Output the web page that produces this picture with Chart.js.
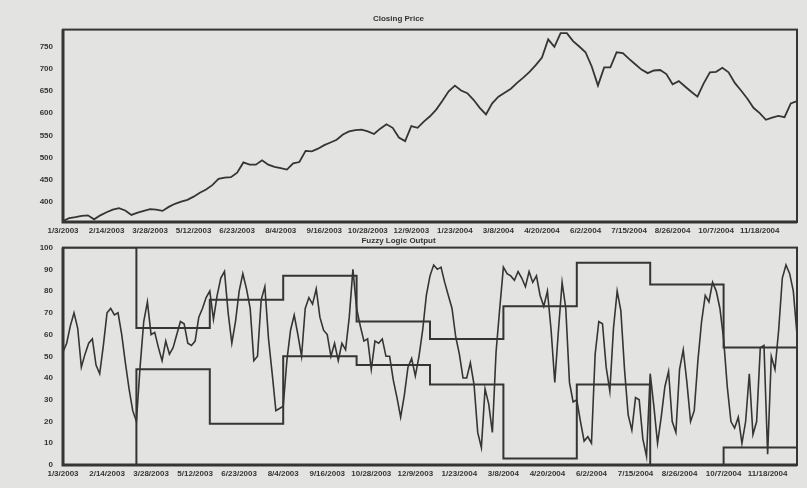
<!DOCTYPE html>
<html>
<head>
<meta charset="utf-8">
<script src="https://cdn.jsdelivr.net/npm/chart.js@4.4.1/dist/chart.umd.min.js"></script>
<style>
  html, body { margin: 0; padding: 0; background: #e3e3e1; }
  #wrap { position: relative; width: 807px; height: 488px; overflow: hidden; }
  canvas { position: absolute; left: 0; }
  #priceChart { top: 0; }
  #fuzzyChart { top: 228px; }
</style>
</head>
<body>
<div id="wrap">
  <canvas id="priceChart" width="807" height="240"></canvas>
  <canvas id="fuzzyChart" width="807" height="260"></canvas>
</div>
<script>
// Daily closing price, sampled evenly across the period
const closingPrice = [
  357, 364, 366, 369, 370, 361, 370, 377, 383, 386,
  381, 371, 376, 380, 384, 383, 380, 389, 396, 401,
  405, 412, 421, 428, 438, 452, 455, 456, 466, 489,
  484, 484, 494, 484, 479, 476, 473, 487, 490, 515,
  514, 520, 528, 534, 540, 552, 559, 562, 563, 559,
  553, 565, 575, 567, 545, 537, 571, 567, 581, 593,
  608, 628, 649, 662, 651, 645, 630, 612, 597, 622,
  637, 646, 655, 668, 680, 693, 708, 725, 766, 749,
  780, 780, 762, 750, 737, 705, 662, 703, 703, 737,
  735, 722, 710, 698, 690, 696, 697, 688, 665, 672,
  660, 648, 637, 667, 692, 693, 702, 692, 668, 651,
  633, 612, 600, 585, 590, 594, 591, 622, 627
];

// Fuzzy logic output (0-100), same period, finer sampling
const fuzzyOutput = [
  52, 56, 64, 70, 63, 45, 51, 56, 58, 46, 42, 55, 70, 72, 69, 70, 60, 47, 35, 25,
  20, 45, 66, 75, 60, 61, 54, 48, 57, 51, 54, 60, 66, 65, 56, 55, 57, 68, 72, 77,
  80, 67, 78, 86, 89, 70, 56, 66, 80, 88, 81, 72, 48, 50, 76, 82, 58, 42, 25, 26,
  27, 48, 62, 69, 60, 50, 72, 77, 74, 81, 68, 62, 60, 50, 56, 48, 56, 53, 68, 90,
  72, 64, 57, 58, 44, 57, 56, 58, 50, 50, 39, 31, 22, 32, 45, 49, 41, 50, 62, 78,
  87, 92, 90, 91, 84, 78, 72, 59, 51, 40, 40, 47, 37, 15, 8, 35, 28, 15, 52, 72,
  91, 88, 87, 85, 89, 86, 82, 89, 84, 87, 78, 73, 80, 62, 38, 62, 84, 72, 38, 29,
  30, 20, 11, 13, 10, 51, 66, 65, 45, 34, 63, 80, 71, 44, 23, 16, 31, 30, 12, 4,
  42, 27, 10, 22, 36, 43, 20, 15, 44, 53, 38, 20, 25, 48, 66, 78, 75, 84, 80, 72,
  58, 36, 20, 17, 22, 10, 20, 42, 14, 20, 54, 55, 5, 50, 44, 62, 86, 92, 88, 80,
  60
];

// Band limits held for each of the ten evaluation windows
const upperBand = [100, 63, 76, 87, 66, 58, 73, 93, 83, 54];
const lowerBand = [0, 44, 19, 50, 46, 37, 3, 37, 0, 8];

// Date tick labels along both time axes
const dateLabels = [
  '1/3/2003', '2/14/2003', '3/28/2003', '5/12/2003', '6/23/2003', '8/4/2003',
  '9/16/2003', '10/28/2003', '12/9/2003', '1/23/2004', '3/8/2004', '4/20/2004',
  '6/2/2004', '7/15/2004', '8/26/2004', '10/7/2004', '11/18/2004'
];

const priceTicks = [400, 450, 500, 550, 600, 650, 700, 750];
const fuzzyTicks = [0, 10, 20, 30, 40, 50, 60, 70, 80, 90, 100];

const INK = '#353535';
const FONT = "'Liberation Sans', Arial, sans-serif";

// Spread the date labels evenly over a series' points
function axisLabels(count) {
  const step = Math.floor((count - 1) / (dateLabels.length - 1));
  return Array.from({ length: count }, (_, i) =>
    (i % step === 0 && i / step < dateLabels.length) ? dateLabels[i / step] : '');
}

// Expand per-window band values to one value per point
function expandBand(band, count) {
  const per = Math.floor((count - 1) / band.length);
  return Array.from({ length: count }, (_, i) => band[Math.min(band.length - 1, Math.floor(i / per))]);
}

// Frame around the plotting area
const frame = {
  id: 'frame',
  afterDatasetsDraw(chart) {
    const a = chart.chartArea, ctx = chart.ctx;
    ctx.save();
    ctx.strokeStyle = INK;
    ctx.lineWidth = 2;
    ctx.strokeRect(a.left, a.top, a.right - a.left, a.bottom - a.top);
    ctx.lineWidth = 3;
    ctx.beginPath();
    ctx.moveTo(a.left, a.top);
    ctx.lineTo(a.left, a.bottom);
    ctx.lineTo(a.right, a.bottom);
    ctx.stroke();
    ctx.restore();
  }
};

function baseOptions(title, yMin, yMax, yTicks, padTop, titleGap, padBottom) {
  return {
    responsive: false,
    animation: false,
    events: [],
    layout: { padding: { left: 0, right: 10, top: 0, bottom: padBottom } },
    plugins: {
      legend: { display: false },
      tooltip: { enabled: false },
      title: {
        display: true,
        text: title,
        color: INK,
        font: { family: FONT, size: 8, weight: 'bold' },
        padding: { top: padTop, bottom: titleGap }
      }
    },
    elements: { point: { radius: 0 }, line: { tension: 0, borderWidth: 1.8, borderColor: INK } },
    scales: {
      x: {
        type: 'category',
        offset: false,
        grid: { display: false, drawTicks: false },
        border: { display: false },
        ticks: {
          autoSkip: false, maxRotation: 0, minRotation: 0, padding: 4,
          color: INK, font: { family: FONT, size: 8, weight: 'bold' }
        },
        afterFit(s) { s.height = 18; }
      },
      y: {
        min: yMin, max: yMax,
        grid: { display: false, drawTicks: false },
        border: { display: false },
        afterBuildTicks(s) { s.ticks = yTicks.map(v => ({ value: v })); },
        ticks: { padding: 10, color: INK, font: { family: FONT, size: 8, weight: 'bold' } },
        afterFit(s) { s.width = 63; }
      }
    }
  };
}

new Chart(document.getElementById('priceChart'), {
  type: 'line',
  data: {
    labels: axisLabels(closingPrice.length),
    datasets: [{ data: closingPrice }]
  },
  options: baseOptions('Closing Price', 355, 788, priceTicks, 14, 6, 0),
  plugins: [frame]
});

new Chart(document.getElementById('fuzzyChart'), {
  type: 'line',
  data: {
    labels: axisLabels(fuzzyOutput.length),
    datasets: [
      { data: fuzzyOutput, borderWidth: 1.6 },
      { data: expandBand(upperBand, fuzzyOutput.length), stepped: true, borderWidth: 2 },
      { data: expandBand(lowerBand, fuzzyOutput.length), stepped: true, borderWidth: 2 }
    ]
  },
  options: baseOptions('Fuzzy Logic Output', 0, 100, fuzzyTicks, 8, 2, 5),
  plugins: [frame]
});
</script>
</body>
</html>
